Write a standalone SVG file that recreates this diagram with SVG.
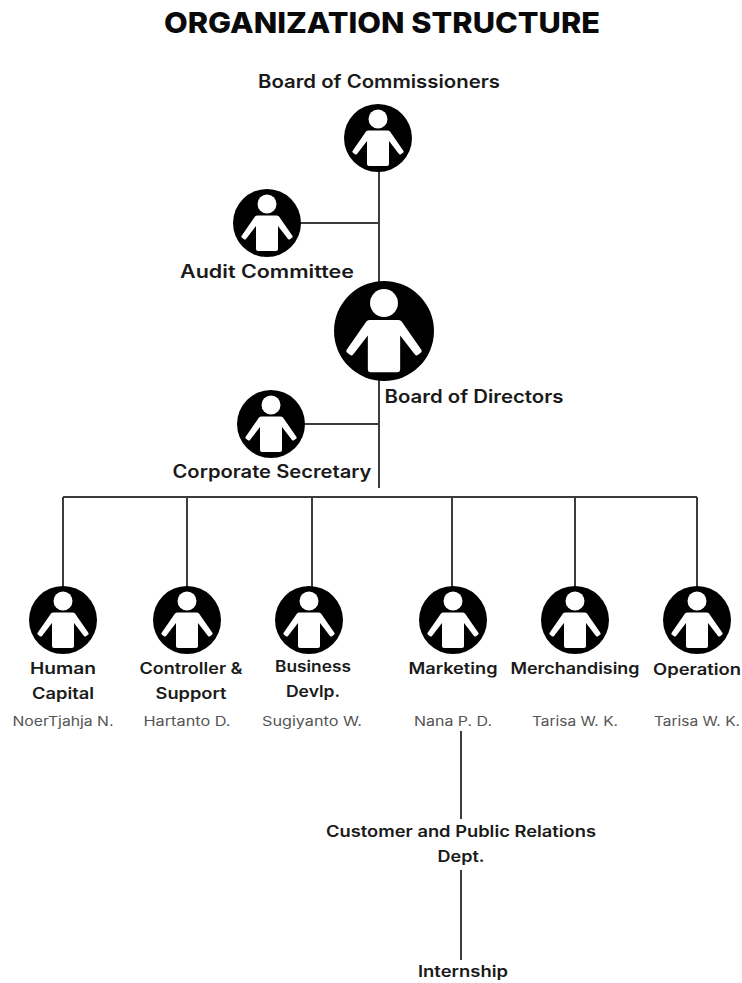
<svg xmlns="http://www.w3.org/2000/svg" xmlns:xlink="http://www.w3.org/1999/xlink" width="742" height="983" viewBox="0 0 742 983">
<style>
text{font-family:"Inter","Liberation Sans",sans-serif;text-anchor:middle;fill:#1a1a1a}
.t{font-size:29px;font-weight:800;fill:#0a0a0a}
.b{font-size:18px;font-weight:600}
.s{font-size:15.5px;font-weight:600}
.n{font-size:13px;font-weight:400;fill:#555}
.c{fill:none;stroke:#3c3c3c;stroke-width:2}
</style>
<defs>
<g id="p">
<circle r="34" fill="#000"/>
<circle cy="-19" r="9.500" fill="#fff"/>
<path fill="#fff" d="M-9.500-7.500H9.500Q11-7.500 12-6.500L25.500 13Q26 14 25 14.800L23 16.300Q22 17 21 16L11 3V26Q11 28 9 28H-9Q-11 28-11 26V3L-21 16Q-22 17-23 16.300L-25 14.800Q-26 14-25.500 13L-12-6.500Q-11-7.500-9.500-7.500Z"/>
</g>
</defs>
<rect width="742" height="983" fill="#fff"/>
<g id="connectors">
<path class="c" d="M379 165V282M300 223H379M379 375V488M300 424H379M63 497H697M63 497V590M187 497V590M312 497V590M452 497V590M575 497V590M697 497V590M461 731V819M461 870V960"/>
</g>
<text class="t" x="382" y="33" textLength="436" lengthAdjust="spacingAndGlyphs">ORGANIZATION STRUCTURE</text>
<g id="board-commissioners"><use xlink:href="#p" href="#p" x="378" y="138"/><text class="b" x="379" y="88" textLength="242" lengthAdjust="spacingAndGlyphs">Board of Commissioners</text></g>
<g id="audit-committee"><use xlink:href="#p" href="#p" x="267" y="223"/><text class="b" x="267" y="278" textLength="174" lengthAdjust="spacingAndGlyphs">Audit Committee</text></g>
<g id="board-directors"><use xlink:href="#p" href="#p" transform="translate(384 331) scale(1.470)"/><text class="b" x="474" y="403" textLength="179" lengthAdjust="spacingAndGlyphs">Board of Directors</text></g>
<g id="corporate-secretary"><use xlink:href="#p" href="#p" x="271" y="424"/><text class="b" x="272" y="478" textLength="199" lengthAdjust="spacingAndGlyphs">Corporate Secretary</text></g>
<g id="human-capital"><use xlink:href="#p" href="#p" x="63" y="620"/><text class="s" x="63" y="674" textLength="66" lengthAdjust="spacingAndGlyphs">Human</text><text class="s" x="63" y="699" textLength="62" lengthAdjust="spacingAndGlyphs">Capital</text><text class="n" x="63" y="726" textLength="101" lengthAdjust="spacingAndGlyphs">NoerTjahja N.</text></g>
<g id="controller-support"><use xlink:href="#p" href="#p" x="187" y="620"/><text class="s" x="191" y="674" textLength="103" lengthAdjust="spacingAndGlyphs">Controller &amp;</text><text class="s" x="191" y="699" textLength="71" lengthAdjust="spacingAndGlyphs">Support</text><text class="n" x="187" y="726" textLength="87" lengthAdjust="spacingAndGlyphs">Hartanto D.</text></g>
<g id="business-devlp"><use xlink:href="#p" href="#p" x="309" y="620"/><text class="s" x="313" y="672" textLength="76" lengthAdjust="spacingAndGlyphs">Business</text><text class="s" x="313" y="697" textLength="54" lengthAdjust="spacingAndGlyphs">Devlp.</text><text class="n" x="312" y="726" textLength="100" lengthAdjust="spacingAndGlyphs">Sugiyanto W.</text></g>
<g id="marketing"><use xlink:href="#p" href="#p" x="453" y="620"/><text class="s" x="453" y="674" textLength="89" lengthAdjust="spacingAndGlyphs">Marketing</text><text class="n" x="453" y="726" textLength="78" lengthAdjust="spacingAndGlyphs">Nana P. D.</text></g>
<g id="merchandising"><use xlink:href="#p" href="#p" x="575" y="620"/><text class="s" x="575" y="674" textLength="129" lengthAdjust="spacingAndGlyphs">Merchandising</text><text class="n" x="575" y="726" textLength="86" lengthAdjust="spacingAndGlyphs">Tarisa W. K.</text></g>
<g id="operation"><use xlink:href="#p" href="#p" x="697" y="620"/><text class="s" x="697" y="675" textLength="88" lengthAdjust="spacingAndGlyphs">Operation</text><text class="n" x="697" y="726" textLength="86" lengthAdjust="spacingAndGlyphs">Tarisa W. K.</text></g>
<g id="customer-pr"><text class="s" x="461" y="837" textLength="270" lengthAdjust="spacingAndGlyphs">Customer and Public Relations</text><text class="s" x="461" y="862" textLength="47" lengthAdjust="spacingAndGlyphs">Dept.</text></g>
<g id="internship"><text class="s" x="463" y="977" textLength="90" lengthAdjust="spacingAndGlyphs">Internship</text></g>
</svg>
